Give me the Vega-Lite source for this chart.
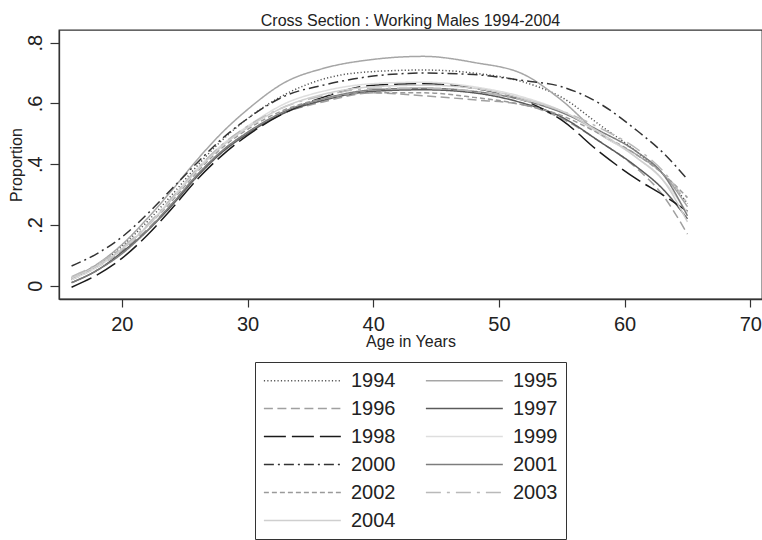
{
"$schema": "https://vega.github.io/schema/vega-lite/v6.json",
"width": 703, "height": 269,
"autosize": {"type": "none"},
"padding": {"left": 59, "top": 30, "right": 0, "bottom": 241},
"background": "white",
"title": {"text": "Cross Section : Working Males 1994-2004", "fontSize": 16, "font": "Liberation Sans", "fontWeight": "normal", "color": "#222", "anchor": "middle", "frame": "group", "baseline": "alphabetic", "offset": 7, "dy": 19},
"config": {"view": {"stroke": "#333", "strokeWidth": 1.3}, "font": "Liberation Sans"},
"data": {"values": [
{"y":"1994","a":16,"p":0.02},{"y":"1994","a":18,"p":0.065},{"y":"1994","a":20,"p":0.13},{"y":"1994","a":22,"p":0.21},{"y":"1994","a":24,"p":0.3},{"y":"1994","a":26,"p":0.395},{"y":"1994","a":28,"p":0.48},{"y":"1994","a":30,"p":0.55},{"y":"1994","a":33,"p":0.63},{"y":"1994","a":36,"p":0.68},{"y":"1994","a":40,"p":0.705},{"y":"1994","a":44,"p":0.71},{"y":"1994","a":48,"p":0.7},{"y":"1994","a":52,"p":0.67},{"y":"1994","a":55,"p":0.62},{"y":"1994","a":58,"p":0.53},{"y":"1994","a":61,"p":0.44},{"y":"1994","a":63,"p":0.37},{"y":"1994","a":65,"p":0.27},
{"y":"1995","a":16,"p":0.025},{"y":"1995","a":18,"p":0.07},{"y":"1995","a":20,"p":0.135},{"y":"1995","a":22,"p":0.22},{"y":"1995","a":24,"p":0.315},{"y":"1995","a":26,"p":0.415},{"y":"1995","a":28,"p":0.505},{"y":"1995","a":30,"p":0.58},{"y":"1995","a":33,"p":0.67},{"y":"1995","a":36,"p":0.715},{"y":"1995","a":40,"p":0.745},{"y":"1995","a":44,"p":0.755},{"y":"1995","a":48,"p":0.735},{"y":"1995","a":52,"p":0.695},{"y":"1995","a":55,"p":0.61},{"y":"1995","a":58,"p":0.5},{"y":"1995","a":61,"p":0.43},{"y":"1995","a":63,"p":0.37},{"y":"1995","a":65,"p":0.26},
{"y":"1996","a":16,"p":0.02},{"y":"1996","a":18,"p":0.06},{"y":"1996","a":20,"p":0.115},{"y":"1996","a":22,"p":0.185},{"y":"1996","a":24,"p":0.27},{"y":"1996","a":26,"p":0.365},{"y":"1996","a":28,"p":0.445},{"y":"1996","a":30,"p":0.505},{"y":"1996","a":33,"p":0.57},{"y":"1996","a":36,"p":0.605},{"y":"1996","a":40,"p":0.635},{"y":"1996","a":44,"p":0.625},{"y":"1996","a":48,"p":0.612},{"y":"1996","a":52,"p":0.595},{"y":"1996","a":55,"p":0.55},{"y":"1996","a":58,"p":0.475},{"y":"1996","a":61,"p":0.385},{"y":"1996","a":63,"p":0.3},{"y":"1996","a":65,"p":0.17},
{"y":"1997","a":16,"p":0.01},{"y":"1997","a":18,"p":0.05},{"y":"1997","a":20,"p":0.11},{"y":"1997","a":22,"p":0.18},{"y":"1997","a":24,"p":0.265},{"y":"1997","a":26,"p":0.36},{"y":"1997","a":28,"p":0.44},{"y":"1997","a":30,"p":0.5},{"y":"1997","a":33,"p":0.57},{"y":"1997","a":36,"p":0.61},{"y":"1997","a":40,"p":0.64},{"y":"1997","a":44,"p":0.645},{"y":"1997","a":48,"p":0.635},{"y":"1997","a":52,"p":0.6},{"y":"1997","a":55,"p":0.555},{"y":"1997","a":58,"p":0.475},{"y":"1997","a":61,"p":0.39},{"y":"1997","a":63,"p":0.32},{"y":"1997","a":65,"p":0.22},
{"y":"1998","a":16,"p":-0.005},{"y":"1998","a":18,"p":0.035},{"y":"1998","a":20,"p":0.09},{"y":"1998","a":22,"p":0.165},{"y":"1998","a":24,"p":0.255},{"y":"1998","a":26,"p":0.35},{"y":"1998","a":28,"p":0.43},{"y":"1998","a":30,"p":0.495},{"y":"1998","a":33,"p":0.57},{"y":"1998","a":36,"p":0.62},{"y":"1998","a":40,"p":0.66},{"y":"1998","a":44,"p":0.665},{"y":"1998","a":48,"p":0.65},{"y":"1998","a":52,"p":0.61},{"y":"1998","a":55,"p":0.545},{"y":"1998","a":58,"p":0.44},{"y":"1998","a":61,"p":0.35},{"y":"1998","a":63,"p":0.3},{"y":"1998","a":65,"p":0.245},
{"y":"1999","a":16,"p":0.02},{"y":"1999","a":18,"p":0.06},{"y":"1999","a":20,"p":0.12},{"y":"1999","a":22,"p":0.195},{"y":"1999","a":24,"p":0.29},{"y":"1999","a":26,"p":0.385},{"y":"1999","a":28,"p":0.465},{"y":"1999","a":30,"p":0.525},{"y":"1999","a":33,"p":0.6},{"y":"1999","a":36,"p":0.64},{"y":"1999","a":40,"p":0.665},{"y":"1999","a":44,"p":0.67},{"y":"1999","a":48,"p":0.655},{"y":"1999","a":52,"p":0.62},{"y":"1999","a":55,"p":0.575},{"y":"1999","a":58,"p":0.5},{"y":"1999","a":61,"p":0.42},{"y":"1999","a":63,"p":0.35},{"y":"1999","a":65,"p":0.24},
{"y":"2000","a":16,"p":0.065},{"y":"2000","a":18,"p":0.105},{"y":"2000","a":20,"p":0.16},{"y":"2000","a":22,"p":0.235},{"y":"2000","a":24,"p":0.32},{"y":"2000","a":26,"p":0.405},{"y":"2000","a":28,"p":0.485},{"y":"2000","a":30,"p":0.55},{"y":"2000","a":33,"p":0.625},{"y":"2000","a":36,"p":0.66},{"y":"2000","a":40,"p":0.69},{"y":"2000","a":44,"p":0.7},{"y":"2000","a":48,"p":0.695},{"y":"2000","a":52,"p":0.675},{"y":"2000","a":55,"p":0.655},{"y":"2000","a":58,"p":0.6},{"y":"2000","a":61,"p":0.51},{"y":"2000","a":63,"p":0.44},{"y":"2000","a":65,"p":0.35},
{"y":"2001","a":16,"p":0.01},{"y":"2001","a":18,"p":0.05},{"y":"2001","a":20,"p":0.105},{"y":"2001","a":22,"p":0.18},{"y":"2001","a":24,"p":0.27},{"y":"2001","a":26,"p":0.365},{"y":"2001","a":28,"p":0.445},{"y":"2001","a":30,"p":0.505},{"y":"2001","a":33,"p":0.575},{"y":"2001","a":36,"p":0.615},{"y":"2001","a":40,"p":0.645},{"y":"2001","a":44,"p":0.65},{"y":"2001","a":48,"p":0.64},{"y":"2001","a":52,"p":0.61},{"y":"2001","a":55,"p":0.57},{"y":"2001","a":58,"p":0.51},{"y":"2001","a":61,"p":0.44},{"y":"2001","a":63,"p":0.37},{"y":"2001","a":65,"p":0.23},
{"y":"2002","a":16,"p":0.025},{"y":"2002","a":18,"p":0.065},{"y":"2002","a":20,"p":0.12},{"y":"2002","a":22,"p":0.195},{"y":"2002","a":24,"p":0.28},{"y":"2002","a":26,"p":0.375},{"y":"2002","a":28,"p":0.455},{"y":"2002","a":30,"p":0.515},{"y":"2002","a":33,"p":0.58},{"y":"2002","a":36,"p":0.615},{"y":"2002","a":40,"p":0.635},{"y":"2002","a":44,"p":0.635},{"y":"2002","a":48,"p":0.62},{"y":"2002","a":52,"p":0.595},{"y":"2002","a":55,"p":0.56},{"y":"2002","a":58,"p":0.5},{"y":"2002","a":61,"p":0.43},{"y":"2002","a":63,"p":0.37},{"y":"2002","a":65,"p":0.29},
{"y":"2003","a":16,"p":0.03},{"y":"2003","a":18,"p":0.07},{"y":"2003","a":20,"p":0.125},{"y":"2003","a":22,"p":0.2},{"y":"2003","a":24,"p":0.29},{"y":"2003","a":26,"p":0.385},{"y":"2003","a":28,"p":0.465},{"y":"2003","a":30,"p":0.525},{"y":"2003","a":33,"p":0.59},{"y":"2003","a":36,"p":0.625},{"y":"2003","a":40,"p":0.65},{"y":"2003","a":44,"p":0.65},{"y":"2003","a":48,"p":0.64},{"y":"2003","a":52,"p":0.61},{"y":"2003","a":55,"p":0.575},{"y":"2003","a":58,"p":0.52},{"y":"2003","a":61,"p":0.45},{"y":"2003","a":63,"p":0.38},{"y":"2003","a":65,"p":0.27},
{"y":"2004","a":16,"p":0.025},{"y":"2004","a":18,"p":0.065},{"y":"2004","a":20,"p":0.12},{"y":"2004","a":22,"p":0.195},{"y":"2004","a":24,"p":0.285},{"y":"2004","a":26,"p":0.38},{"y":"2004","a":28,"p":0.46},{"y":"2004","a":30,"p":0.52},{"y":"2004","a":33,"p":0.59},{"y":"2004","a":36,"p":0.63},{"y":"2004","a":40,"p":0.655},{"y":"2004","a":44,"p":0.66},{"y":"2004","a":48,"p":0.65},{"y":"2004","a":52,"p":0.615},{"y":"2004","a":55,"p":0.575},{"y":"2004","a":58,"p":0.505},{"y":"2004","a":61,"p":0.42},{"y":"2004","a":63,"p":0.35},{"y":"2004","a":65,"p":0.21}
]},
"mark": {"type": "line", "interpolate": "monotone", "strokeWidth": 1.5, "clip": true},
"encoding": {
  "x": {"field": "a", "type": "quantitative", "scale": {"domain": [15, 70.93], "nice": false, "zero": false},
    "axis": {"title": "Age in Years", "values": [20,30,40,50,60,70], "grid": false, "domainColor": "#333", "domainWidth": 1.3, "tickColor": "#333", "tickSize": 8, "tickWidth": 1.2, "labelFontSize": 20, "labelColor": "#222", "labelPadding": 7, "labelFlush": false, "titleFontSize": 16, "titleFontWeight": "normal", "titleColor": "#222", "titleBaseline": "alphabetic", "titleY": 47.5}},
  "y": {"field": "p", "type": "quantitative", "scale": {"domain": [-0.0438, 0.8418], "nice": false, "zero": false},
    "axis": {"title": "Proportion", "values": [0,0.2,0.4,0.6,0.8], "grid": false, "domainColor": "#333", "domainWidth": 1.3, "tickColor": "#333", "tickSize": 9, "tickWidth": 1.2, "labelFontSize": 20, "labelColor": "#222", "labelAngle": -90, "labelAlign": "center", "labelBaseline": "alphabetic", "labelPadding": 9, "labelFlush": false, "labelExpr": "datum.value == 0 ? '0' : replace(format(datum.value, '.1f'), '0.', '.')", "titleFontSize": 16, "titleFontWeight": "normal", "titleColor": "#222", "titleBaseline": "alphabetic", "titleX": -37.5, "titleY": 134.5}},
  "color": {"field": "y", "type": "nominal",
    "scale": {"domain": ["1994","1995","1996","1997","1998","1999","2000","2001","2002","2003","2004"],
      "range": ["#555555","#a6a6a6","#a0a0a0","#5a5a5a","#1a1a1a","#dedede","#333333","#7d7d7d","#9a9a9a","#b9b9b9","#cfcfcf"]},
    "legend": {"title": null, "orient": "none", "legendX": 196, "legendY": 332, "direction": "horizontal", "columns": 2, "symbolType": "M-1,0H7", "symbolSize": 370, "symbolStrokeWidth": 1.5, "labelFontSize": 20, "labelColor": "#222", "labelOffset": 67, "padding": 8, "strokeColor": "#333", "fillColor": "white", "rowPadding": 7, "columnPadding": 26}},
  "strokeDash": {"field": "y", "type": "nominal",
    "scale": {"domain": ["1994","1995","1996","1997","1998","1999","2000","2001","2002","2003","2004"],
      "range": [[1.2,2.2],[1,0],[9,4.5],[1,0],[22,6],[1,0],[10,4,2,4],[1,0],[5,3],[15,6,3,6],[1,0]]},
    "legend": {"title": null, "orient": "none", "legendX": 196, "legendY": 332, "direction": "horizontal", "columns": 2, "symbolType": "M-1,0H7", "symbolSize": 370, "symbolStrokeWidth": 1.5, "labelFontSize": 20, "labelColor": "#222", "labelOffset": 67, "padding": 8, "strokeColor": "#333", "fillColor": "white", "rowPadding": 7, "columnPadding": 26}}
}
}
